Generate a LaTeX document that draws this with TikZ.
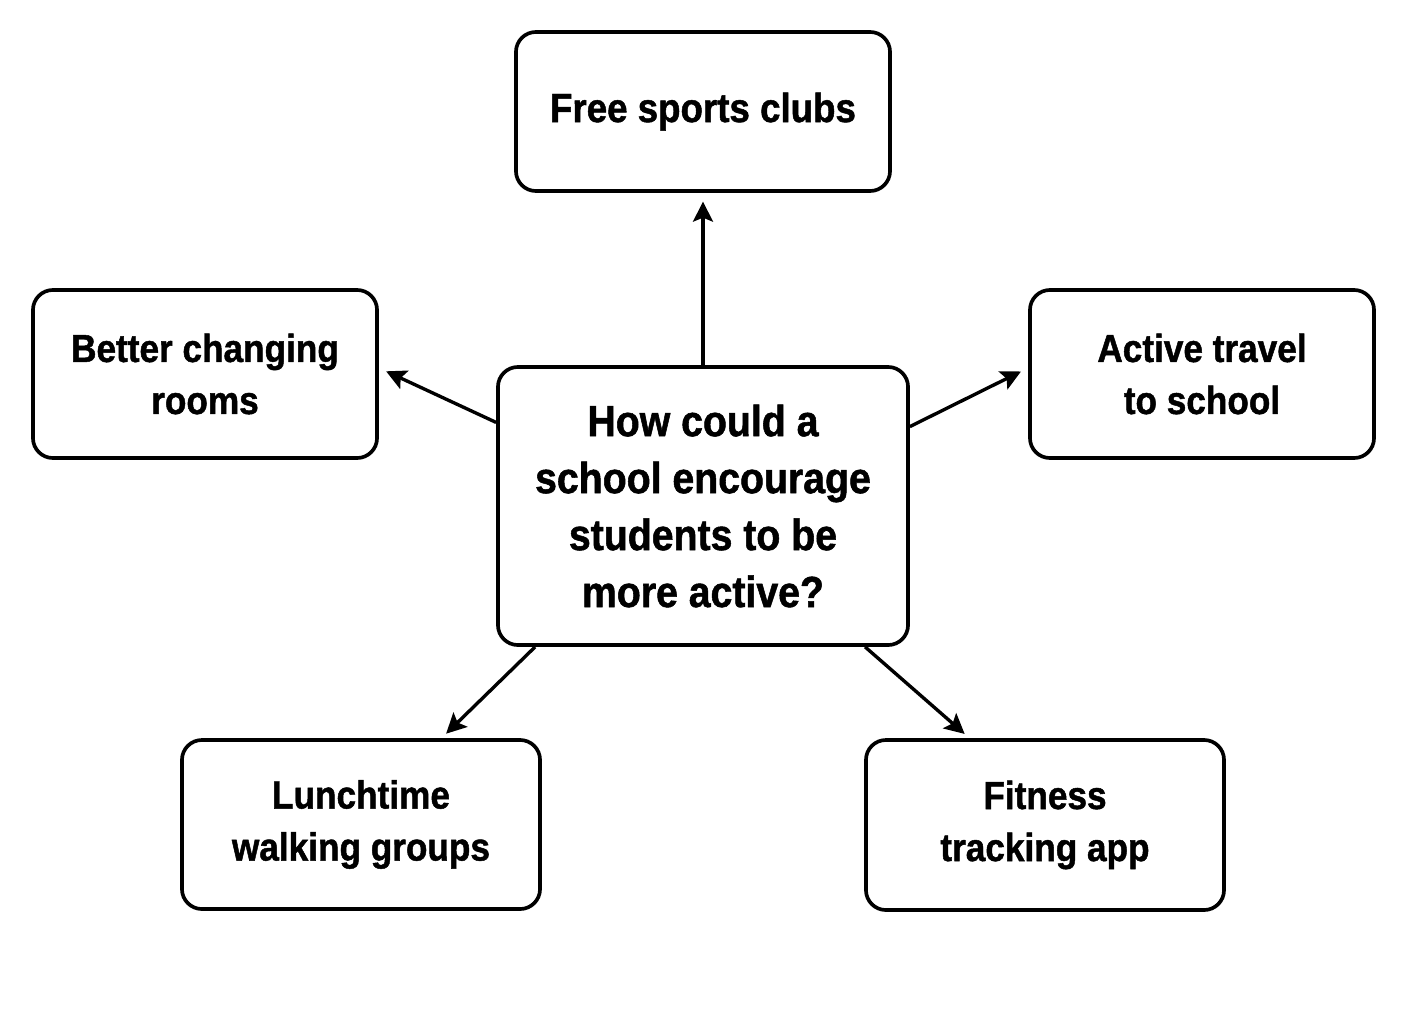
\documentclass[tikz,border=0pt]{standalone}
\usepackage{fontspec}
\setmainfont{Liberation Sans}[FakeStretch=0.9,FakeBold=1.2]
\usetikzlibrary{arrows.meta}
\begin{document}
\begin{tikzpicture}[x=0.025cm,y=-0.025cm,
  box/.style={draw=black,line width=2.6pt,rounded corners=0.5cm,fill=white,
    align=center,inner sep=0pt,font=\bfseries},
  sidetext/.style={font=\fontsize{27.8}{37}\selectfont\bfseries},
  arr/.style={line width=2.4pt,-{Stealth[length=0.5cm,width=0.5cm,inset=0.1cm]}}]
\useasboundingbox[fill=white] (0,0) rectangle (1408,1008);
\node[box,minimum width=9.35cm,minimum height=3.975cm,font=\fontsize{29}{38}\selectfont\bfseries] (T) at (703,111.5) {Free sports clubs};
\node[box,sidetext,minimum width=8.6cm,minimum height=4.2cm] (L) at (205,374) {Better changing\\rooms};
\node[box,sidetext,minimum width=8.6cm,minimum height=4.2cm] (R) at (1202,374) {Active travel\\to school};
\node[box,minimum width=10.25cm,minimum height=6.95cm,font=\fontsize{31}{40.5}\selectfont\bfseries] (C) at (703,506) {How could a\\school encourage\\students to be\\more active?};
\node[box,sidetext,minimum width=8.95cm,minimum height=4.225cm] (BL) at (361,824.5) {Lunchtime\\walking groups};
\node[box,sidetext,minimum width=8.95cm,minimum height=4.25cm] (BR) at (1045,825) {Fitness\\tracking app};
\draw[arr,shorten >=0.22cm] (C.north) -- (T.south);
\draw[arr,shorten >=0.2cm] (C.158.5) -- (L.2);
\draw[arr,shorten >=0.2cm] (C.21.4) -- (R.178);
\draw[arr,shorten >=0.16cm] (C.220.3) -- (BL.47.5);
\draw[arr,shorten >=0.16cm] (C.319.8) -- (BR.131.6);
\end{tikzpicture}
\end{document}
